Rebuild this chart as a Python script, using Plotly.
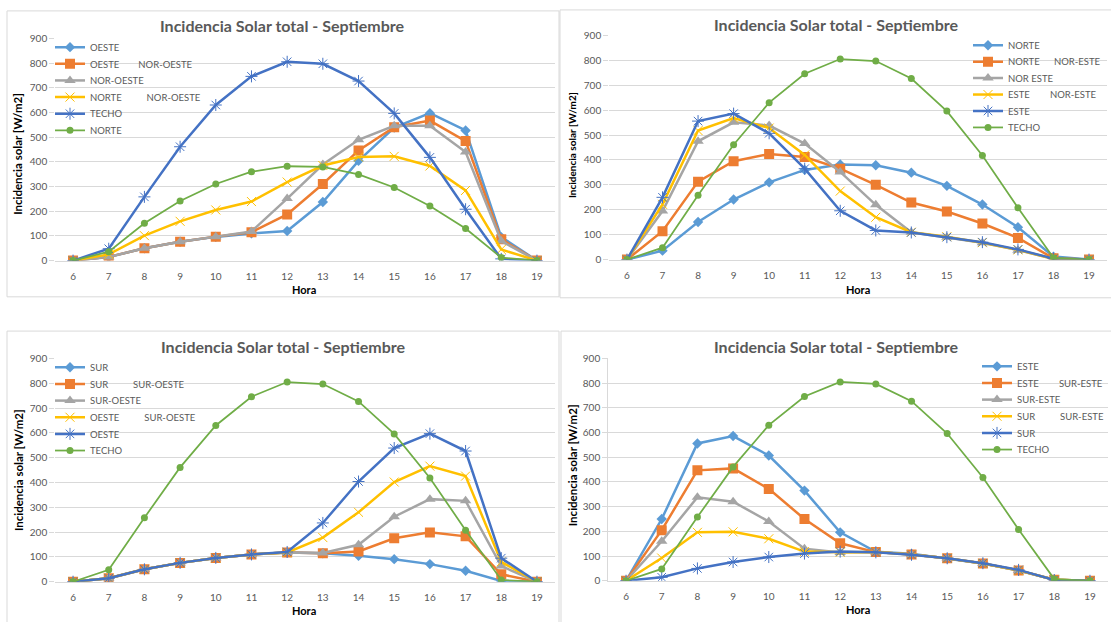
import plotly.graph_objects as go

W, H = 1111, 622

hours = [6, 7, 8, 9, 10, 11, 12, 13, 14, 15, 16, 17, 18, 19]

# shared series
techo = [0, 48, 258, 461, 630, 746, 805, 797, 727, 596, 418, 208, 7, 0]
norte = [0, 36, 151, 241, 310, 360, 382, 379, 349, 296, 221, 130, 12, 0]
oeste = [0, 14, 50, 76, 96, 110, 120, 237, 404, 539, 597, 527, 95, 0]
este = [0, 250, 556, 586, 507, 365, 196, 117, 109, 90, 70, 41, 4, 0]
sur = [0, 14, 50, 76, 96, 110, 118, 115, 105, 91, 71, 44, 3, 0]

# panel 1
p1_oeste_noroeste = [0, 15, 50, 76, 97, 115, 187, 310, 446, 540, 567, 484, 86, 0]
p1_noroeste = [0, 15, 50, 76, 97, 118, 251, 389, 489, 546, 546, 440, 79, 0]
p1_norte_noroeste = [0, 25, 101, 159, 205, 239, 318, 385, 419, 422, 383, 284, 45, 0]
# panel 2
p2_norte_noreste = [0, 114, 313, 395, 424, 412, 365, 300, 229, 193, 145, 87, 5, 0]
p2_noreste = [0, 195, 475, 551, 538, 466, 352, 220, 110, 90, 68, 38, 3, 0]
p2_este_noreste = [0, 222, 518, 568, 528, 420, 275, 170, 110, 92, 68, 39, 3, 0]
# panel 3
p3_sur_suroeste = [0, 14, 50, 76, 96, 110, 118, 115, 122, 175, 199, 183, 30, 0]
p3_suroeste = [0, 14, 50, 76, 96, 110, 118, 116, 149, 262, 333, 326, 63, 0]
p3_oeste_suroeste = [0, 14, 50, 76, 96, 110, 118, 178, 280, 402, 466, 426, 80, 0]
# panel 4
p4_este_sureste = [0, 205, 447, 455, 372, 250, 152, 116, 106, 91, 70, 42, 4, 0]
p4_sureste = [0, 160, 338, 320, 240, 130, 114, 116, 106, 91, 70, 42, 4, 0]
p4_sur_sureste = [0, 92, 196, 198, 170, 118, 115, 116, 106, 91, 70, 42, 4, 0]

EN = "\u2002"
TH = "\u2009"
p1_names = ["OESTE", "OESTE" + EN * 4 + "NOR-OESTE", "NOR-OESTE",
            "NORTE" + EN * 5 + TH + "NOR-OESTE", "TECHO", "NORTE"]
p2_names = ["NORTE", "NORTE" + EN * 3 + "NOR-ESTE", "NOR ESTE",
            "ESTE" + EN * 4 + TH + "NOR-ESTE", "ESTE", "TECHO"]
p3_names = ["SUR", "SUR" + EN * 5 + TH + "SUR-OESTE", "SUR-OESTE",
            "OESTE" + EN * 5 + TH + "SUR-OESTE", "OESTE", "TECHO"]
p4_names = ["ESTE", "ESTE" + EN * 4 + TH + "SUR-ESTE", "SUR-ESTE",
            "SUR" + EN * 5 + TH + "SUR-ESTE", "SUR", "TECHO"]

p1_values = [oeste, p1_oeste_noroeste, p1_noroeste, p1_norte_noroeste, techo, norte]
p2_values = [norte, p2_norte_noreste, p2_noreste, p2_este_noreste, este, techo]
p3_values = [sur, p3_sur_suroeste, p3_suroeste, p3_oeste_suroeste, oeste, techo]
p4_values = [este, p4_este_sureste, p4_sureste, p4_sur_sureste, sur, techo]

STYLES = [
    dict(color="#5B9BD5", symbol="diamond", size=8, lw=2.5, mlw=0),
    dict(color="#ED7D31", symbol="square", size=10, lw=2.5, mlw=0),
    dict(color="#A5A5A5", symbol="triangle-up", size=10, lw=2.5, mlw=0),
    dict(color="#FFC000", symbol="x-thin-open", size=9, lw=2.5, mlw=1),
    dict(color="#4472C4", symbol="asterisk-open", size=10, lw=2.5, mlw=1),
    dict(color="#70AD47", symbol="circle", size=7, lw=1.75, mlw=0),
]
FONT = "Lato, Open Sans, sans-serif"
GRID = "#d9d9d9"
TXT = "#595959"


def px_x(p):
    return p / W


def px_y(p):
    return 1 - p / H


# legend entry positions (pixels): legend left x, first entry centre y, row step
leg_geo = [(50, 41, 17), (968, 39, 16.8), (50, 368, 17), (977, 367, 17)]

fig = go.Figure()
layout = dict(
    width=W, height=H, margin=dict(l=0, r=0, t=0, b=0),
    paper_bgcolor="white", plot_bgcolor="white",
    font=dict(family=FONT, color=TXT, size=10),
    showlegend=True,
)

panels = [
    (p1_names, p1_values, "x", "y"),
    (p2_names, p2_values, "x2", "y2"),
    (p3_names, p3_values, "x3", "y3"),
    (p4_names, p4_values, "x4", "y4"),
]
li = 0
for pi, (names, values, xa, ya) in enumerate(panels):
    lx, ly0, step = leg_geo[pi]
    for j, (name, vals, st) in enumerate(zip(names, values, STYLES)):
        li += 1
        lname = "legend" if li == 1 else "legend%d" % li
        fig.add_trace(go.Scatter(
            x=hours, y=vals, name=name, mode="lines+markers",
            xaxis=xa, yaxis=ya, legend=lname,
            line=dict(color=st["color"], width=st["lw"]),
            marker=dict(symbol=st["symbol"], size=st["size"], color=st["color"],
                        line=dict(color=st["color"], width=st["mlw"])),
        ))
        layout[lname] = dict(
            x=px_x(lx), y=px_y(ly0 + j * step), xanchor="left", yanchor="middle",
            bgcolor="rgba(0,0,0,0)", borderwidth=0,
            font=dict(family=FONT, size=9.5, color=TXT), itemwidth=30,
        )

# plot-area geometry in pixels: (left, right, y of 0, y of 900)
geo = {
    "1": (55.2, 554.8, 259, 32),
    "2": (609.2, 1106.8, 258, 29),
    "3": (55.2, 554.8, 587, 359),
    "4": (608.2, 1107.8, 586, 359),
}
for k, (l, r, b, t) in geo.items():
    xs = "xaxis" if k == "1" else "xaxis" + k
    ys = "yaxis" if k == "1" else "yaxis" + k
    xid = "x" if k == "1" else "x" + k
    yid = "y" if k == "1" else "y" + k
    layout[xs] = dict(
        domain=[px_x(l), px_x(r)], anchor=yid, range=[5.5, 19.5],
        tickmode="array", tickvals=hours, ticktext=[str(h) for h in hours],
        showgrid=False, zeroline=False, showline=True, linecolor=GRID, linewidth=1,
        ticks="outside", ticklen=6, tickcolor="rgba(0,0,0,0)",
        tickfont=dict(family=FONT, size=10, color=TXT), fixedrange=True,
    )
    layout[ys] = dict(
        domain=[px_y(b), px_y(t)], anchor=xid, range=[0, 900], dtick=100,
        showgrid=True, gridcolor=GRID, gridwidth=1, zeroline=False,
        showline=(k == "4"), linecolor=GRID,
        ticks="outside", ticklen=5, tickcolor=GRID,
        tickfont=dict(family=FONT, size=10, color=TXT), fixedrange=True,
    )

fig.update_layout(**layout)

# chart-area borders
borders = [(7, 4, 559, 296), (560, 3, 1115, 297), (7, 331, 559, 630), (561, 331, 1115, 630)]
for x0, y0, x1, y1 in borders:
    fig.add_shape(type="rect", xref="paper", yref="paper",
                  x0=px_x(x0), x1=px_x(x1), y0=px_y(y0), y1=px_y(y1),
                  line=dict(color=GRID, width=1), layer="below")

TITLE = "Incidencia Solar total - Septiembre"
titles = [(282, 19), (836, 18), (283, 347), (836, 347)]
for cx, cy in titles:
    fig.add_annotation(text="<b>" + TITLE + "</b>", xref="paper", yref="paper",
                       x=px_x(cx), y=px_y(cy), showarrow=False,
                       xanchor="center", yanchor="middle",
                       font=dict(family=FONT, size=16, color=TXT))

horas = [(304, 289), (858, 289), (304, 616), (858, 615)]
for cx, cy in horas:
    fig.add_annotation(text="<b>Hora</b>", xref="paper", yref="paper",
                       x=px_x(cx), y=px_y(cy), showarrow=False,
                       xanchor="center", yanchor="middle",
                       font=dict(family=FONT, size=11, color="black"))

ytitles = [(18, 150, 11.5), (572, 141, 10), (18, 473, 11.5), (572, 468, 11.5)]
for cx, cy, fs in ytitles:
    fig.add_annotation(text="<b>Incidencia solar [W/m2]</b>", xref="paper", yref="paper",
                       x=px_x(cx), y=px_y(cy), showarrow=False, textangle=-90,
                       xanchor="center", yanchor="middle",
                       font=dict(family=FONT, size=fs, color="black"))

fig.write_html("out.html")
